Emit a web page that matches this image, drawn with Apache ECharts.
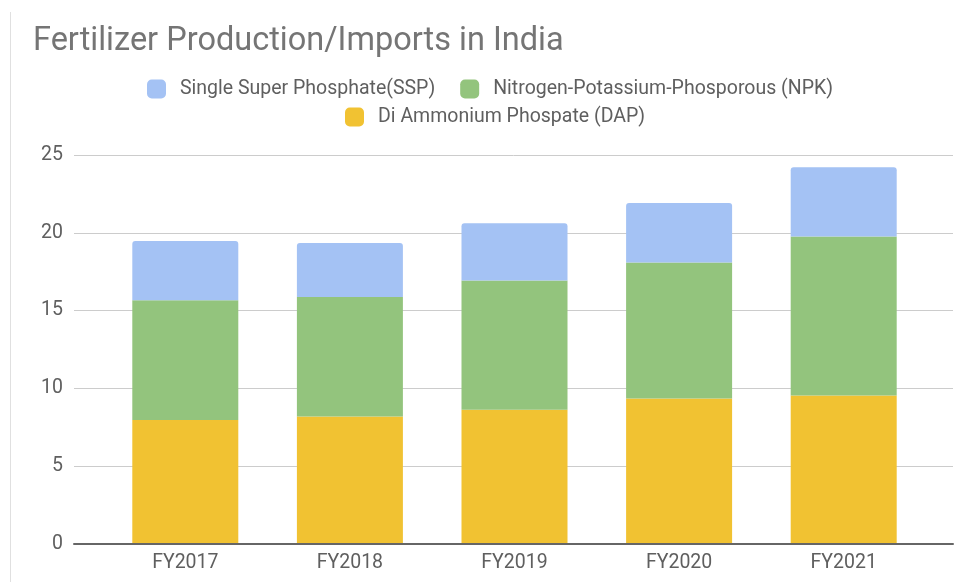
<!DOCTYPE html>
<html>
<head>
<meta charset="utf-8">
<script src="https://cdn.jsdelivr.net/npm/echarts@6/dist/echarts.min.js"></script>
<style>html,body{margin:0;padding:0;background:#fff;}#c{width:969px;height:582px;}</style>
</head>
<body>
<div id="c"></div>
<script>
const categories = ['FY2017', 'FY2018', 'FY2019', 'FY2020', 'FY2021'];
const dapValues = [7.97, 8.19, 8.62, 9.35, 9.54];
const npkValues = [7.70, 7.68, 8.31, 8.74, 10.22];
const sspValues = [3.80, 3.47, 3.69, 3.82, 4.46];
const yTicks = [0, 5, 10, 15, 20, 25];

const names = {
  ssp: 'Single Super Phosphate(SSP)',
  npk: 'Nitrogen-Potassium-Phosporous (NPK)',
  dap: 'Di Ammonium Phospate (DAP)'
};
const colors = { ssp: '#a4c2f4', npk: '#93c47d', dap: '#f1c232' };

const chart = echarts.init(document.getElementById('c'), null, { renderer: 'canvas' });
const font = 'Roboto, sans-serif';
const legendCommon = {
  itemWidth: 19, itemHeight: 19, itemGap: 25,
  icon: 'roundRect',
  textStyle: { fontFamily: font, fontSize: 19.5, color: '#5f5f5f', padding: [0, 0, 0, 9] },
  selectedMode: false
};
chart.setOption({
  animation: false,
  backgroundColor: '#fff',
  title: {
    text: 'Fertilizer Production/Imports in India',
    left: 28, top: 20,
    textStyle: { fontFamily: font, fontSize: 32.5, fontWeight: 'normal', color: '#757575' }
  },
  legend: [
    Object.assign({ data: [names.ssp, names.npk], left: 142, top: 74 }, legendCommon),
    Object.assign({ data: [names.dap], left: 340, top: 102 }, legendCommon)
  ],
  grid: [
    { left: 103, right: 43, top: 155, bottom: 38 },
    { left: 74, right: 16, top: 155, bottom: 38 }
  ],
  xAxis: [
    {
      type: 'category', gridIndex: 0, data: categories,
      axisLine: { show: false }, axisTick: { show: false },
      axisLabel: { fontFamily: font, fontSize: 19.5, color: '#5f5f5f', margin: 9 }
    },
    {
      type: 'value', gridIndex: 1, min: 0, max: 1,
      axisLine: { show: true, onZero: false, lineStyle: { color: '#666', width: 2 } },
      axisTick: { show: false }, axisLabel: { show: false }, splitLine: { show: false }, z: 5
    }
  ],
  yAxis: [
    {
      type: 'value', gridIndex: 0, min: 0, max: 25, interval: 5,
      axisLine: { show: false }, axisTick: { show: false }, axisLabel: { show: false }, splitLine: { show: false }
    },
    {
      type: 'value', gridIndex: 1, min: yTicks[0], max: yTicks[yTicks.length - 1], interval: yTicks[1] - yTicks[0],
      axisLine: { show: false }, axisTick: { show: false },
      axisLabel: { fontFamily: font, fontSize: 19.5, color: '#5f5f5f', margin: 11 },
      splitLine: { lineStyle: { color: '#cccccc', width: 1 } }, z: 0
    }
  ],
  graphic: [
    { type: 'line', shape: { x1: 10.5, y1: 12, x2: 10.5, y2: 582 }, style: { stroke: '#e0e0e0', lineWidth: 1 }, silent: true }
  ],
  series: [
    { name: names.dap, type: 'bar', stack: 'total', data: dapValues, xAxisIndex: 0, yAxisIndex: 0,
      barWidth: 106, itemStyle: { color: colors.dap }, z: 2 },
    { name: names.npk, type: 'bar', stack: 'total', data: npkValues, xAxisIndex: 0, yAxisIndex: 0,
      barWidth: 106, itemStyle: { color: colors.npk }, z: 2 },
    { name: names.ssp, type: 'bar', stack: 'total', data: sspValues, xAxisIndex: 0, yAxisIndex: 0,
      barWidth: 106, itemStyle: { color: colors.ssp, borderRadius: [3, 3, 0, 0] }, z: 2 }
  ]
});
</script>
</body>
</html>
